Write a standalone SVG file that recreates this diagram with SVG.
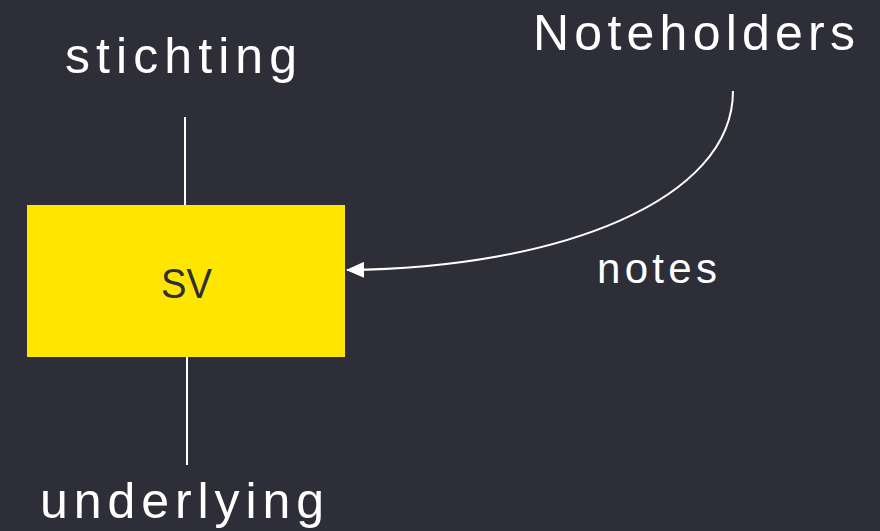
<svg xmlns="http://www.w3.org/2000/svg" width="880" height="531" viewBox="0 0 880 531">
  <defs>
    <style>
      .lbl { font-family: "Liberation Sans", Arial, sans-serif; fill: #ffffff; }
      .node-text { font-family: "Liberation Sans", Arial, sans-serif; fill: #2e2e38; }
      .conn { stroke: #ffffff; stroke-width: 2; fill: none; }
    </style>
    <marker id="arrow" viewBox="0 0 18 16" refX="17" refY="8" markerWidth="18" markerHeight="16" markerUnits="userSpaceOnUse" orient="auto">
      <path d="M18,8 L0,0 L0,16 Z" fill="#ffffff"/>
    </marker>
  </defs>
  <rect x="0" y="0" width="880" height="531" fill="#2e2e38"/>

  <g id="connectors">
    <line class="conn" x1="185" y1="117" x2="185" y2="205"/>
    <line class="conn" x1="187" y1="357" x2="187" y2="465"/>
    <path class="conn" d="M733,91 C733,200 560,268 347,270" marker-end="url(#arrow)"/>
  </g>

  <g id="node-sv">
    <rect x="27" y="205" width="318" height="152" fill="#ffe600"/>
    <text class="node-text" x="161" y="298" font-size="42" textLength="51" lengthAdjust="spacingAndGlyphs">SV</text>
  </g>

  <g id="node-stichting">
    <text class="lbl" x="65" y="73" font-size="50" textLength="232" lengthAdjust="spacing">stichting</text>
  </g>

  <g id="node-noteholders">
    <text class="lbl" x="533" y="50" font-size="50" textLength="322" lengthAdjust="spacing">Noteholders</text>
  </g>

  <g id="node-underlying">
    <text class="lbl" x="40" y="518" font-size="50" textLength="284" lengthAdjust="spacing">underlying</text>
  </g>

  <g id="label-notes">
    <text class="lbl" x="597" y="283" font-size="42" textLength="120" lengthAdjust="spacing">notes</text>
  </g>
</svg>
